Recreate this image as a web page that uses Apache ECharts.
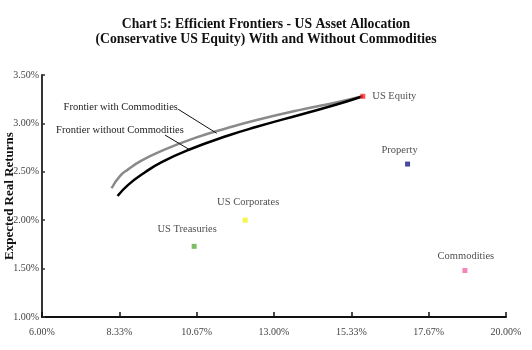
<!DOCTYPE html>
<html><head><meta charset="utf-8">
<script src="https://cdn.jsdelivr.net/npm/echarts@6/dist/echarts.min.js"></script>
<style>html,body{margin:0;padding:0;background:#fff}#c{width:532px;height:350px}</style>
</head><body><div id="c"></div>
<script>
// Data (x = risk %, y = expected real return %)
var assetNames = ['US Equity', 'Property', 'US Corporates', 'US Treasuries', 'Commodities'];
var assetRisk = [15.68, 17.03, 12.13, 10.59, 18.76];
var assetReturn = [3.28, 2.58, 2.00, 1.73, 1.48];

var frontierWithRisk = [8.10, 8.35, 8.60, 9.00, 9.60, 10.62, 11.62, 12.48, 13.79, 14.94, 15.68];
var frontierWithReturn = [2.33, 2.455, 2.525, 2.615, 2.715, 2.85, 2.955, 3.035, 3.14, 3.222, 3.28];
var frontierWithoutRisk = [8.28, 8.60, 9.11, 9.61, 10.41, 11.62, 12.48, 13.79, 14.94, 15.68];
var frontierWithoutReturn = [2.25, 2.365, 2.495, 2.60, 2.725, 2.875, 2.965, 3.09, 3.20, 3.28];

var xTickMin = 6, xTickMax = 20, xTickStep = 14 / 6;
var yTickMin = 1, yTickMax = 3.5, yTickStep = 0.5;

// Annotation anchors (data units)
var withLabelAnchor = [10.10, 3.17];
var withLeader = [[10.11, 3.146], [11.27, 2.898]];
var withoutLabelAnchor = [10.28, 2.93];
var withoutLeader = [[9.71, 2.88], [10.47, 2.725]];

var assetColors = ['#ff2a2a', '#1c1c8c', '#f2f21e', '#5aae3c', '#f266a8'];
var labelOffsets = [[0, 0, 'right'], [-8, 0, 'top'], [3, 0, 'top'], [-7, 0, 'top'], [1, 0, 'top']];
var labelDist = [7, 6, 10, 9, 6];

function zip(a, b) { return a.map(function (v, i) { return [v, b[i]]; }); }

var serif = '"Liberation Serif", "DejaVu Serif", serif';
var chart = echarts.init(document.getElementById('c'), null, { renderer: 'canvas' });

var assetSeries = assetNames.map(function (n, i) {
  return {
    type: 'scatter', name: n, symbol: 'rect', symbolSize: 5,
    itemStyle: { color: assetColors[i] },
    data: [[assetRisk[i], assetReturn[i]]],
    label: {
      show: true, formatter: n, position: labelOffsets[i][2], distance: labelDist[i],
      offset: [labelOffsets[i][0], labelOffsets[i][1]],
      fontFamily: serif, fontSize: 10.5, color: '#222'
    },
    z: 5
  };
});

chart.setOption({
  animation: false,
  title: {
    text: 'Chart 5: Efficient Frontiers - US Asset Allocation\n(Conservative US Equity) With and Without Commodities',
    left: 'center', top: 12,
    textStyle: { fontFamily: serif, fontWeight: 'bold', fontSize: 13.7, lineHeight: 15, color: '#111' }
  },
  grid: { left: 42, right: 26, top: 75, bottom: 33, containLabel: false, outerBoundsMode: 'none' },
  xAxis: {
    type: 'value', min: xTickMin, max: xTickMax, interval: xTickStep,
    axisLine: { lineStyle: { color: '#111', width: 2 } },
    axisTick: { inside: true, length: 5, lineStyle: { color: '#111', width: 1.5 } },
    axisLabel: { formatter: function (v) { return v.toFixed(2) + '%'; }, fontFamily: serif, fontSize: 10, color: '#444', margin: 10 },
    splitLine: { show: false }
  },
  yAxis: {
    type: 'value', min: yTickMin, max: yTickMax, interval: yTickStep,
    name: 'Expected Real Returns', nameLocation: 'middle', nameGap: 26, nameRotate: 90, nameMoveOverlap: false,
    nameTextStyle: { fontFamily: serif, fontWeight: 'bold', fontSize: 13, color: '#111' },
    axisLine: { show: true, lineStyle: { color: '#333', width: 2 } },
    axisTick: { show: true, inside: true, length: 3, lineStyle: { color: '#333', width: 1.5 } },
    axisLabel: { formatter: function (v) { return v.toFixed(2) + '%'; }, fontFamily: serif, fontSize: 10, color: '#444', margin: 3 },
    splitLine: { show: false }
  },
  series: [
    {
      type: 'line', name: 'Frontier with Commodities', smooth: true, symbol: 'none',
      data: zip(frontierWithRisk, frontierWithReturn),
      lineStyle: { color: '#8a8a8a', width: 2.5 },
      markPoint: {
        symbol: 'circle', symbolSize: 0, silent: true,
        data: [{ coord: withLabelAnchor, value: 'Frontier with Commodities' }],
        label: { show: true, position: 'left', distance: 0, formatter: '{c}', fontFamily: serif, fontSize: 10.5, color: '#222' }
      },
      markLine: {
        symbol: 'none', silent: true, label: { show: false },
        lineStyle: { color: '#111', width: 1, type: 'solid' },
        data: [[{ coord: withLeader[0] }, { coord: withLeader[1] }]]
      }
    },
    {
      type: 'line', name: 'Frontier without Commodities', smooth: true, symbol: 'none',
      data: zip(frontierWithoutRisk, frontierWithoutReturn),
      lineStyle: { color: '#000', width: 2.5 },
      markPoint: {
        symbol: 'circle', symbolSize: 0, silent: true,
        data: [{ coord: withoutLabelAnchor, value: 'Frontier without Commodities' }],
        label: { show: true, position: 'left', distance: 0, formatter: '{c}', fontFamily: serif, fontSize: 10.5, color: '#222' }
      },
      markLine: {
        symbol: 'none', silent: true, label: { show: false },
        lineStyle: { color: '#111', width: 1, type: 'solid' },
        data: [[{ coord: withoutLeader[0] }, { coord: withoutLeader[1] }]]
      }
    }
  ].concat(assetSeries)
});
</script></body></html>
